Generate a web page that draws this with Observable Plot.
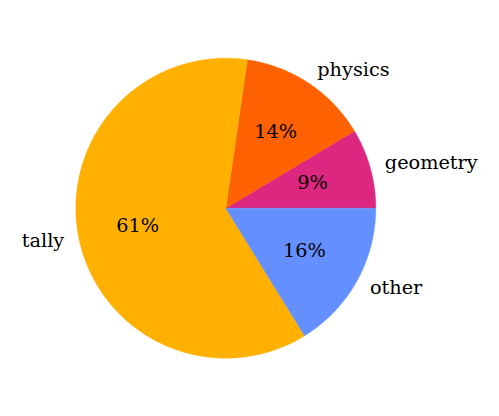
<!DOCTYPE html>
<html><head><meta charset="utf-8">
<script src="https://cdn.jsdelivr.net/npm/d3@7"></script>
<script src="https://cdn.jsdelivr.net/npm/@observablehq/plot@0.6"></script>
<style>html,body{margin:0;padding:0;background:#fff}</style>
</head><body><div id="chart"></div>
<script>
// data
const labels = ["geometry", "physics", "tally", "other"];
const shares = [8.6, 14.1, 61.1, 16.2];
const colors = ["#DC267F", "#FE6100", "#FFB000", "#648FFF"];

// layout
const W = 499, H = 416, cx = 225.3, cy = 207.7, R = 150;
const total = d3.sum(shares);
let acc = 0;
const slices = labels.map((l, i) => {
  const a0 = acc / total * 2 * Math.PI;
  acc += shares[i];
  const a1 = acc / total * 2 * Math.PI;
  return {label: l, value: shares[i], a0, a1, mid: (a0 + a1) / 2};
});

// polygon points per slice
const pts = [];
for (const s of slices) {
  pts.push({label: s.label, x: 0, y: 0});
  const n = Math.max(2, Math.ceil((s.a1 - s.a0) / (Math.PI / 360)));
  for (let k = 0; k <= n; k++) {
    const a = s.a0 + (s.a1 - s.a0) * k / n;
    pts.push({label: s.label, x: Math.cos(a), y: Math.sin(a)});
  }
  pts.push({label: s.label, x: 0, y: 0});
}

const outer = slices.map(s => ({label: s.label, x: 1.1 * Math.cos(s.mid), y: 1.1 * Math.sin(s.mid)}));
const inner = slices.map(s => ({text: Math.round(s.value / total * 100) + "%", x: 0.6 * Math.cos(s.mid), y: 0.6 * Math.sin(s.mid)}));

const font = {fontFamily: "DejaVu Serif", fontSize: 19.3, fill: "black", dy: -1};

const chart = Plot.plot({
  width: W, height: H, margin: 0,
  style: {background: "white", fontFamily: "DejaVu Serif"},
  x: {domain: [-cx / R, (W - cx) / R], axis: null},
  y: {domain: [-(H - cy) / R, cy / R], axis: null},
  color: {domain: labels, range: colors},
  marks: [
    Plot.line(pts, {x: "x", y: "y", z: "label", fill: "label", stroke: "label", strokeWidth: 0.4, curve: "linear-closed"}),
    Plot.text(outer.filter(d => d.x >= 0), {x: "x", y: "y", text: "label", textAnchor: "start", ...font}),
    Plot.text(outer.filter(d => d.x < 0), {x: "x", y: "y", text: "label", textAnchor: "end", ...font}),
    Plot.text(inner, {x: "x", y: "y", text: "text", textAnchor: "middle", ...font})
  ]
});
document.getElementById("chart").appendChild(chart);
</script>
</body></html>
